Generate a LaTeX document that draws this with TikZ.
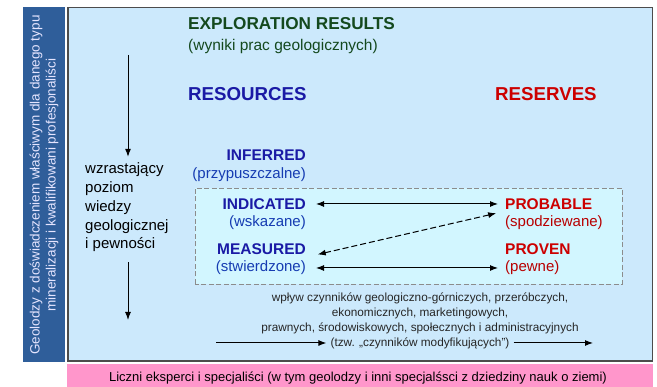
\documentclass[tikz,border=0pt]{standalone}
\usepackage{fontspec}
\setmainfont{Liberation Sans}
\usetikzlibrary{arrows.meta,positioning}

\definecolor{sidebar}{HTML}{2F5E9A}
\definecolor{panelfill}{HTML}{CCE9FC}
\definecolor{zonefill}{HTML}{D2F6FF}
\definecolor{footfill}{HTML}{FF96CB}
\definecolor{geogreen}{HTML}{14491E}
\definecolor{resblue}{HTML}{1A1AA5}
\definecolor{resred}{HTML}{CC0000}

\tikzset{
  tip/.tip={Latex[length=8pt,width=6pt]},
  heading/.style={font=\fontsize{17.2}{20}\selectfont\bfseries, text=geogreen},
  category/.style={font=\fontsize{18.7}{22}\selectfont\bfseries},
  term/.style={font=\fontsize{15.5}{18}\selectfont\bfseries},
  gloss/.style={font=\fontsize{15}{18}\selectfont},
  note/.style={font=\fontsize{11.8}{15}\selectfont, text=black!85, inner sep=4pt},
  link/.style={tip-tip, line width=1pt},
  hint/.style={tip-tip, line width=1pt, dashed, dash pattern=on 6pt off 3pt},
  flow/.style={-tip, line width=1pt}
}

\begin{document}
\begin{tikzpicture}[x=1pt, y=1pt, every node/.style={inner sep=2pt}]
  \useasboundingbox (0,0) rectangle (657,387);

  % Frames
  \fill[sidebar] (23,25) rectangle (65,380);
  \draw[fill=panelfill, draw=black!70, line width=1.6pt] (67.8,25.8) rectangle (652.5,379.5);
  \fill[footfill] (67,0) rectangle (653,22.5);
  \draw[fill=zonefill, draw=black!45, dashed, dash pattern=on 5pt off 2.5pt, line width=0.9pt]
    (195,103) rectangle (622,199);

  % Nodes
  \node (experts) at (44,202) [rotate=90, align=center, text=white!90!blue,
    font=\fontsize{13.5}{16}\selectfont]
    {Geolodzy z doświadczeniem właściwym dla danego typu\\mineralizacji i kwalifikowani profesjonaliści};
  \node (others) at (358,8.5) [font=\fontsize{13}{15}\selectfont]
    {Liczni eksperci i specjaliści (w tym geolodzy i inni specjalśsci z dziedziny nauk o ziemi)};

  \node (results) at (186,363) [heading, anchor=west] {EXPLORATION RESULTS};
  \node (resultspl) at (186,340) [gloss, anchor=west, text=geogreen,
    font=\fontsize{15.5}{18}\selectfont] {(wyniki prac geologicznych)};
  \node (resources) at (186,293) [category, anchor=west, text=resblue] {RESOURCES};
  \node (reserves) at (493,293) [category, anchor=west, text=resred] {RESERVES};

  \node (knowledge) at (83,179.5) [anchor=west, align=left, font=\fontsize{15}{18.75}\selectfont]
    {wzrastający\\poziom\\wiedzy\\geologicznej\\i pewności};

  \node (inferred) at (308,232) [term, anchor=east, text=resblue] {INFERRED};
  \node (inferredpl) at (308,212) [gloss, anchor=east, text=resblue!85!cyan] {(przypuszczalne)};
  \node (indicated) at (308,183) [term, anchor=east, text=resblue] {INDICATED};
  \node (indicatedpl) at (308,164) [gloss, anchor=east, text=resblue!85!cyan] {(wskazane)};
  \node (measured) at (308,138) [term, anchor=east, text=resblue] {MEASURED};
  \node (measuredpl) at (308,119) [gloss, anchor=east, text=resblue!85!cyan] {(stwierdzone)};

  \node (probable) at (503,183) [term, anchor=west, text=resred] {PROBABLE};
  \node (probablepl) at (503,164) [gloss, anchor=west, text=resred!90!black] {(spodziewane)};
  \node (proven) at (503,138) [term, anchor=west, text=resred] {PROVEN};
  \node (provenpl) at (503,119) [gloss, anchor=west, text=resred!90!black] {(pewne)};

  \node (factors) at (420,74) [note, align=center]
    {wpływ czynników geologiczno-górniczych, przeróbczych,\\
     ekonomicznych, marketingowych,\\
     prawnych, środowiskowych, społecznych i administracyjnych};
  \node (modifying) at (420,44) [note] {(tzw. „czynników modyfikujących”)};

  \coordinate (gaintop) at (128,332);
  \coordinate (gainbot) at (128,67);
  \coordinate (flowin) at (216,44);
  \coordinate (flowout) at (593,44);

  % Edges
  \draw[flow, shorten >=4pt] (gaintop) -- (gaintop |- knowledge.north);
  \draw[flow, shorten <=8pt] (gainbot |- knowledge.south) -- (gainbot);
  \draw[link, shorten <=8pt, shorten >=5pt] (indicated.east) -- (probable.west);
  \draw[link, shorten <=8pt, shorten >=5pt] (measuredpl.east) -- (provenpl.west);
  \draw[hint, shorten <=10pt, shorten >=7pt] (measured.south east) -- (probable.south west);
  \draw[flow] (flowin) -- (modifying.west);
  \draw[flow] (modifying.east) -- (flowout);
\end{tikzpicture}
\end{document}
